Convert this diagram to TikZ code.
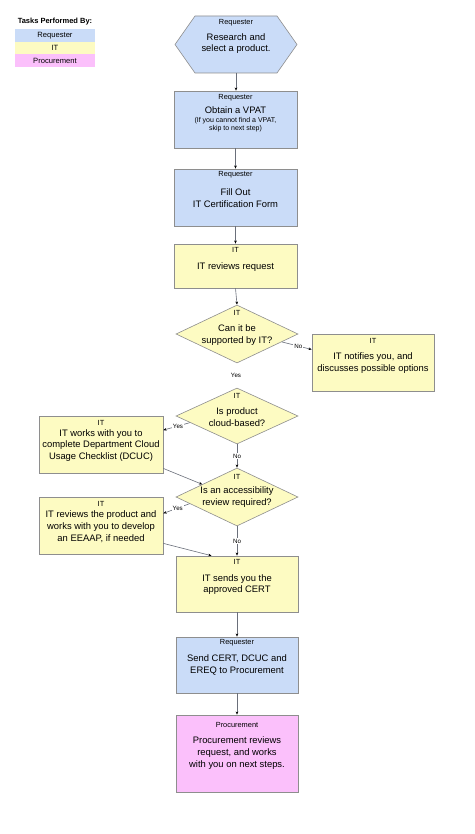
\documentclass[tikz,border=0pt]{standalone}
\usepackage{fontspec}
\setmainfont{Liberation Sans}
\usetikzlibrary{shapes.geometric,arrows.meta,calc}
\definecolor{reqblue}{HTML}{CADCF8}
\definecolor{ityellow}{HTML}{FDFBC2}
\definecolor{procpink}{HTML}{FBC0FB}
\definecolor{bordergray}{HTML}{8E8E8E}
\definecolor{linegray}{HTML}{6A6F7A}
\tikzset{
  box/.style={draw=bordergray, line width=0.6pt, inner sep=0pt, rectangle},
  req/.style={box, fill=reqblue},
  itc/.style={box, fill=ityellow},
  proc/.style={box, fill=procpink},
  dia/.style={draw=bordergray, line width=0.6pt, fill=ityellow, diamond, inner sep=0pt},
  role/.style={font=\fontsize{7.4}{8}\selectfont, inner sep=0pt},
  main/.style={font=\fontsize{9.4}{11.8}\selectfont, align=center, inner sep=0pt},
  small/.style={font=\fontsize{7}{8.2}\selectfont, align=center, inner sep=0pt},
  arr/.style={draw=linegray, line width=0.6pt, -{Stealth[length=3.2pt,width=2.6pt,color=black]}},
  elab/.style={font=\fontsize{6.2}{7}\selectfont, fill=white, inner sep=0.8pt},
  leg/.style={font=\fontsize{7.6}{8}\selectfont, minimum width=80pt, minimum height=12.5pt, inner sep=0pt}
}
\begin{document}
\begin{tikzpicture}[x=1pt,y=-1pt]
\useasboundingbox[fill=white] (0,0) rectangle (474,834);

% legend
\node[font=\bfseries\fontsize{7.5}{8}\selectfont, inner sep=0pt] (legtitle) at (55,22) {Tasks Performed By:};
\node[leg, fill=reqblue] (legreq) at (55,35.5) {Requester};
\node[leg, fill=ityellow] (legit) at (55,48) {IT};
\node[leg, fill=procpink] (legproc) at (55,60.5) {Procurement};

% hexagon
\draw[draw=bordergray, line width=0.6pt, fill=reqblue] (195,16) -- (277,16) -- (297,44.5) -- (277,73) -- (195,73) -- (175,44.5) -- cycle;
\coordinate (hexS) at (236,73);
\node[role] (hexr) at (236,23) {Requester};
\node[main] (hext) at (236,43.5) {Research and\\select a product.};

% box 2
\node[req, minimum width=123pt, minimum height=57pt] (b2) at (235.5,119.5) {};
\node[role] (b2r) at (235.5,98) {Requester};
\node[main] (b2t) at (235.5,110) {Obtain a VPAT};
\node[small] (b2s) at (235.5,125) {(If you cannot find a VPAT,\\skip to next step)};

% box 3
\node[req, minimum width=123pt, minimum height=57pt] (b3) at (235.5,197.5) {};
\node[role] (b3r) at (235.5,175) {Requester};
\node[main] (b3t) at (235.5,198.5) {Fill Out\\IT Certification Form};

% box 4
\node[itc, minimum width=123pt, minimum height=44pt] (b4) at (235.5,266) {};
\node[role] (b4r) at (235.5,250) {IT};
\node[main] (b4t) at (235.5,267) {IT reviews request};

% diamond 1
\node[dia, minimum width=122pt, minimum height=58pt] (d1) at (237,334) {};
\node[role] (d1r) at (237,313) {IT};
\node[main] (d1t) at (237,335) {Can it be\\supported by IT?};

% notifies box
\node[itc, minimum width=122pt, minimum height=57pt] (n1) at (373,362.5) {};
\node[role] (n1r) at (373,341) {IT};
\node[main] (n1t) at (373,363) {IT notifies you, and\\discusses possible options};

\node[elab] (yes1) at (236,375) {Yes};

% diamond 2
\node[dia, minimum width=122pt, minimum height=56pt] (d2) at (237,416) {};
\node[role] (d2r) at (237,396) {IT};
\node[main] (d2t) at (237,417) {Is product\\cloud-based?};

% DCUC box
\node[itc, minimum width=124pt, minimum height=57pt] (dc) at (101,444.5) {};
\node[role] (dcr) at (101,423) {IT};
\node[main] (dct) at (101,445.5) {IT works with you to\\complete Department Cloud\\Usage Checklist (DCUC)};

% diamond 3
\node[dia, minimum width=122pt, minimum height=58pt] (d3) at (237,497) {};
\node[role] (d3r) at (237,477) {IT};
\node[main] (d3t) at (237,497) {Is an accessibility\\review required?};

% EEAAP box
\node[itc, minimum width=124pt, minimum height=57pt] (ee) at (101,525.5) {};
\node[role] (eer) at (101,504) {IT};
\node[main] (eet) at (101,526.5) {IT reviews the product and\\works with you to develop\\an EEAAP, if needed};

% sends box
\node[itc, minimum width=122pt, minimum height=56pt] (se) at (237,584) {};
\node[role] (ser) at (237,562) {IT};
\node[main] (set) at (237,584.5) {IT sends you the\\approved CERT};

% send cert box
\node[req, minimum width=122pt, minimum height=56pt] (sc) at (237,665) {};
\node[role] (scr) at (237,643) {Requester};
\node[main] (sct) at (237,665) {Send CERT, DCUC and\\EREQ to Procurement};

% procurement box
\node[proc, minimum width=122pt, minimum height=77pt] (pr) at (237,753.5) {};
\node[role] (prr) at (237,725) {Procurement};
\node[main] (prt) at (237,753) {Procurement reviews\\request, and works\\with you on next steps.};

% connectors
\draw[arr] (hexS) -- (b2.north -| hexS);
\draw[arr] (b2) -- (b3);
\draw[arr] (b3) -- (b4);
\draw[arr] (b4.south) -- (d1.north);
\draw[arr] (d1.-10) -- node[elab, pos=0.55] (no1) {No} (n1.168);
\draw[arr] (d2.188) -- node[elab, pos=0.45] (yes2) {Yes} (dc.13);
\draw[arr] (d2.south) -- node[elab] (no2) {No} (d3.north);
\draw[arr] (dc.-21.6) -- (d3.160);
\draw[arr] (d3.188) -- node[elab, pos=0.45] (yes3) {Yes} (ee.11);
\draw[arr] (d3.south) -- node[elab] (no3) {No} (se.north);
\draw[arr] (ee.-16) -- (se.132);
\draw[arr] (se) -- (sc);
\draw[arr] (sc) -- (pr);
\end{tikzpicture}
\end{document}
